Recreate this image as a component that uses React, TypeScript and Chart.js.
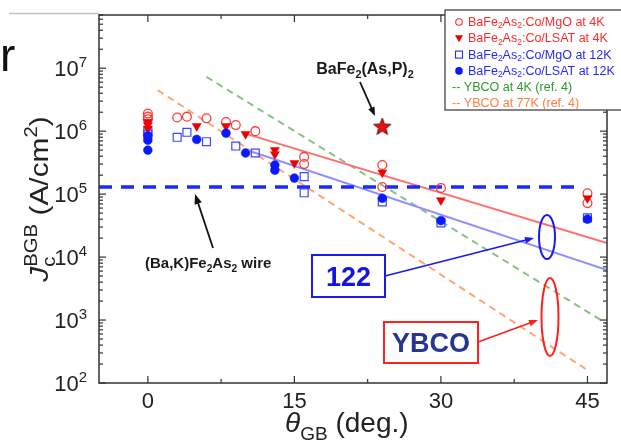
import React, { useEffect, useRef } from "react";
import { Chart, registerables } from "chart.js";

Chart.register(...registerables);

const FONT = "'Liberation Sans', Arial, Helvetica, sans-serif";

// ---------------- data ----------------
const mgo4kTheta = [0, 0, 0, 3, 4, 6, 8, 9, 11, 16, 16, 24, 24, 30, 45, 45];
const mgo4kJc = [1.9e6, 1.7e6, 1.55e6, 1.65e6, 1.7e6, 1.6e6, 1.4e6, 1.25e6, 1.0e6, 3.9e5, 3.0e5, 2.9e5, 1.3e5, 1.25e5, 1.03e5, 7.2e4];

const lsat4kTheta = [0, 0, 0, 5, 8, 10, 13, 13, 15, 24, 30, 45];
const lsat4kJc = [1.4e6, 1.25e6, 1.1e6, 1.2e6, 1.2e6, 9e5, 5e5, 4.3e5, 3.1e5, 2.2e5, 8e4, 8.6e4];

const mgo12kTheta = [0, 0, 3, 4, 6, 9, 11, 16, 16, 24, 30, 45];
const mgo12kJc = [1.0e6, 9e5, 8e5, 9.6e5, 6.8e5, 5.8e5, 4.5e5, 1.9e5, 1.05e5, 7.5e4, 3.5e4, 4.2e4];

const lsat12kTheta = [0, 0, 0, 5, 8, 10, 13, 13, 15, 24, 30, 45];
const lsat12kJc = [8.5e5, 7.2e5, 5e5, 7.4e5, 9.3e5, 4.5e5, 2.9e5, 2.4e5, 1.8e5, 8.6e4, 3.8e4, 4e4];

const starTheta = [24];
const starJc = [1.2e6];

const fit4kTheta = [9.8, 47];
const fit4kJc = [9.3e5, 1.67e4];
const fit12kTheta = [10.5, 47];
const fit12kJc = [4.8e5, 6.2e3];
const ybco4kTheta = [6, 47];
const ybco4kJc = [7.3e6, 8.7e2];
const ybco77kTheta = [1, 45];
const ybco77kJc = [4.5e6, 1.6e2];
const wireTheta = [-5, 44.5];
const wireJc = [1.3e5, 1.3e5];

const xTicks = [0, 15, 30, 45];
const xMinorTicks = [7.5, 22.5, 37.5];
const yDecades = [2, 3, 4, 5, 6, 7];

const legendSuffixes = [":Co/MgO at 4K", ":Co/LSAT at 4K", ":Co/MgO at 12K", ":Co/LSAT at 12K"];
const legendYbco = ["-- YBCO at 4K (ref. 4)", "-- YBCO at 77K (ref. 4)"];

// ---------------- helpers ----------------
const zip = (xs: number[], ys: number[]) => xs.map((x, i) => ({ x, y: ys[i] }));

type Seg = { t: string; s?: "sub" | "sup"; i?: boolean; st?: boolean };

function richDraw(
  ctx: CanvasRenderingContext2D,
  segs: Seg[],
  x: number,
  y: number,
  size: number,
  opt: { bold?: boolean; color?: string; align?: "left" | "center" | "right"; scale?: number } = {}
) {
  const bold = opt.bold ?? false;
  const scale = opt.scale ?? 0.68;
  const items: { t: string; font: string; x: number; dy: number }[] = [];
  let cx = 0;
  let stackStart: number | null = null;
  let stackW = 0;
  for (const sg of segs) {
    const fs = sg.s ? size * scale : size;
    const font = `${sg.i ? "italic " : ""}${bold ? "bold " : ""}${fs}px ${FONT}`;
    ctx.font = font;
    const w = ctx.measureText(sg.t).width;
    const dy = sg.s === "sub" ? size * 0.28 : sg.s === "sup" ? -size * 0.42 : 0;
    if (stackStart !== null) {
      items.push({ t: sg.t, font, x: stackStart, dy });
      cx = stackStart + Math.max(stackW, w);
      stackStart = null;
    } else if (sg.st) {
      items.push({ t: sg.t, font, x: cx, dy });
      stackStart = cx;
      stackW = w;
    } else {
      items.push({ t: sg.t, font, x: cx, dy });
      cx += w;
    }
  }
  const off = opt.align === "center" ? -cx / 2 : opt.align === "right" ? -cx : 0;
  ctx.fillStyle = opt.color ?? "#222";
  ctx.textAlign = "left";
  for (const it of items) {
    ctx.font = it.font;
    ctx.fillText(it.t, x + off + it.x, y + it.dy);
  }
  return cx;
}

function seg(ctx: CanvasRenderingContext2D, x1: number, y1: number, x2: number, y2: number) {
  ctx.beginPath();
  ctx.moveTo(x1, y1);
  ctx.lineTo(x2, y2);
  ctx.stroke();
}

function arrow(ctx: CanvasRenderingContext2D, x1: number, y1: number, x2: number, y2: number, color: string, lw: number, head = 9) {
  const a = Math.atan2(y2 - y1, x2 - x1);
  ctx.strokeStyle = color;
  ctx.fillStyle = color;
  ctx.lineWidth = lw;
  seg(ctx, x1, y1, x2 - Math.cos(a) * head * 0.8, y2 - Math.sin(a) * head * 0.8);
  ctx.beginPath();
  ctx.moveTo(x2, y2);
  ctx.lineTo(x2 - head * Math.cos(a) + head * 0.38 * Math.sin(a), y2 - head * Math.sin(a) - head * 0.38 * Math.cos(a));
  ctx.lineTo(x2 - head * Math.cos(a) - head * 0.38 * Math.sin(a), y2 - head * Math.sin(a) + head * 0.38 * Math.cos(a));
  ctx.closePath();
  ctx.fill();
}

function makeStar(r: number) {
  const c = document.createElement("canvas");
  const s = Math.ceil(r * 2 + 4);
  c.width = s;
  c.height = s;
  const g = c.getContext("2d")!;
  g.beginPath();
  for (let i = 0; i < 10; i++) {
    const rad = i % 2 === 0 ? r : r * 0.42;
    const a = -Math.PI / 2 + (i * Math.PI) / 5;
    const px = s / 2 + rad * Math.cos(a);
    const py = s / 2 + rad * Math.sin(a) + 1;
    if (i) g.lineTo(px, py);
    else g.moveTo(px, py);
  }
  g.closePath();
  g.fillStyle = "#ee1111";
  g.fill();
  g.strokeStyle = "#5a0000";
  g.lineWidth = 1;
  g.stroke();
  return c;
}

const bafe = (suffix: string): Seg[] => [
  { t: "BaFe" },
  { t: "2", s: "sub" },
  { t: "As" },
  { t: "2", s: "sub" },
  { t: suffix },
];

const overlay = {
  id: "overlay",
  beforeDraw(chart: any) {
    const ctx = chart.ctx as CanvasRenderingContext2D;
    ctx.save();
    ctx.fillStyle = "#fff";
    ctx.fillRect(0, 0, chart.width, chart.height);
    ctx.restore();
  },
  afterDraw(chart: any) {
    const ctx = chart.ctx as CanvasRenderingContext2D;
    const { left, right, top, bottom } = chart.chartArea;
    const xs = chart.scales.x;
    const ys = chart.scales.y;
    ctx.save();
    ctx.textBaseline = "alphabetic";

    // slide rule line at top-left
    ctx.strokeStyle = "#c4c4c4";
    ctx.lineWidth = 1.5;
    seg(ctx, 9, 13.5, left, 13.5);

    // partial slide title letter (cut by the left edge)
    ctx.fillStyle = "#111";
    ctx.font = `46px ${FONT}`;
    ctx.textAlign = "left";
    ctx.fillText("r", 0, 71);

    // frame
    ctx.strokeStyle = "#333";
    ctx.lineWidth = 1.5;
    ctx.strokeRect(left, top, right - left, bottom - top);

    // y ticks (log)
    ctx.lineWidth = 1.2;
    for (const d of yDecades) {
      for (let k = 1; k <= 9; k++) {
        const v = k * Math.pow(10, d);
        if (v > ys.max) break;
        const y = ys.getPixelForValue(v);
        const len = k === 1 ? 7 : 4;
        seg(ctx, left, y, left + len, y);
        seg(ctx, right, y, right - len, y);
      }
    }
    // x ticks
    for (const t of xTicks) {
      const x = xs.getPixelForValue(t);
      seg(ctx, x, bottom, x, bottom - 7);
      seg(ctx, x, top, x, top + 7);
    }
    for (const t of xMinorTicks) {
      const x = xs.getPixelForValue(t);
      seg(ctx, x, bottom, x, bottom - 4);
      seg(ctx, x, top, x, top + 4);
    }

    // y tick labels
    for (const d of yDecades) {
      const y = ys.getPixelForValue(Math.pow(10, d));
      richDraw(ctx, [{ t: "10" }, { t: String(d), s: "sup" }], 87, y + 8, 22, { align: "right", color: "#222" });
    }
    // x tick labels
    ctx.font = `22px ${FONT}`;
    ctx.fillStyle = "#222";
    ctx.textAlign = "center";
    for (const t of xTicks) {
      ctx.fillText(String(t), xs.getPixelForValue(t), 408);
    }

    // x title
    richDraw(ctx, [{ t: "θ", i: true }, { t: "GB", s: "sub" }, { t: " (deg.)" }], 285, 432, 28, { color: "#222" });

    // y title
    ctx.save();
    ctx.translate(48, 199);
    ctx.rotate(-Math.PI / 2);
    ctx.scale(1.15, 1);
    richDraw(
      ctx,
      [
        { t: "J", i: true },
        { t: "c", s: "sub", st: true },
        { t: "BGB", s: "sup" },
        { t: " (A/cm" },
        { t: "2", s: "sup" },
        { t: ")" },
      ],
      0,
      0,
      26,
      { align: "center", color: "#222" }
    );
    ctx.restore();

    // annotations
    richDraw(ctx, [{ t: "BaFe" }, { t: "2", s: "sub" }, { t: "(As,P)" }, { t: "2", s: "sub" }], 365, 74, 16, {
      bold: true,
      align: "center",
      color: "#1a1a1a",
    });
    arrow(ctx, 360, 82, 375, 116, "#111", 1.8, 9);

    richDraw(
      ctx,
      [{ t: "(Ba,K)Fe" }, { t: "2", s: "sub" }, { t: "As" }, { t: "2", s: "sub" }, { t: " wire" }],
      145,
      268,
      15,
      { bold: true, color: "#1a1a1a" }
    );
    arrow(ctx, 213, 248, 195, 194, "#111", 1.8, 10);

    // 122 box
    ctx.strokeStyle = "#1a1aee";
    ctx.lineWidth = 2;
    ctx.strokeRect(312, 255, 73, 42);
    ctx.font = `bold 27px ${FONT}`;
    ctx.fillStyle = "#1414e6";
    ctx.textAlign = "center";
    ctx.fillText("122", 348.5, 286);
    arrow(ctx, 385, 276, 534, 238, "#1a1aee", 1.6, 9);
    ctx.strokeStyle = "#1a1aee";
    ctx.lineWidth = 2;
    ctx.beginPath();
    ctx.ellipse(547, 237, 8, 22, 0, 0, Math.PI * 2);
    ctx.stroke();

    // YBCO box
    ctx.strokeStyle = "#ff2020";
    ctx.lineWidth = 2;
    ctx.strokeRect(384, 322, 94, 41);
    ctx.font = `bold 27px ${FONT}`;
    ctx.fillStyle = "#283593";
    ctx.textAlign = "center";
    ctx.fillText("YBCO", 431, 352);
    arrow(ctx, 478, 342, 538, 320, "#ff2020", 1.6, 9);
    ctx.strokeStyle = "#ff2020";
    ctx.lineWidth = 2;
    ctx.beginPath();
    ctx.ellipse(550, 317, 8.5, 39, 0, 0, Math.PI * 2);
    ctx.stroke();

    // legend
    ctx.fillStyle = "#fff";
    ctx.fillRect(445, 10, 185, 100);
    ctx.strokeStyle = "#444";
    ctx.lineWidth = 1.3;
    ctx.strokeRect(445, 10, 185, 100);
    ctx.textBaseline = "middle";
    const ly = (i: number) => 22 + i * 16.3;
    const red = "#ff2a2a";
    const blue = "#2a2aee";
    ctx.lineWidth = 1.1;
    ctx.strokeStyle = red;
    ctx.beginPath();
    ctx.arc(459, ly(0), 3.3, 0, Math.PI * 2);
    ctx.stroke();
    ctx.fillStyle = "#ee0000";
    ctx.beginPath();
    ctx.moveTo(455, ly(1) - 3);
    ctx.lineTo(463, ly(1) - 3);
    ctx.lineTo(459, ly(1) + 4);
    ctx.closePath();
    ctx.fill();
    ctx.strokeStyle = blue;
    ctx.strokeRect(455.5, ly(2) - 3.5, 7, 7);
    ctx.fillStyle = "#0a1aff";
    ctx.beginPath();
    ctx.arc(459, ly(3), 3.8, 0, Math.PI * 2);
    ctx.fill();
    const lc = [red, red, blue, blue];
    legendSuffixes.forEach((s, i) => {
      richDraw(ctx, bafe(s), 468, ly(i) + 0.5, 12.5, { color: lc[i] });
    });
    ctx.font = `12.5px ${FONT}`;
    ctx.textAlign = "left";
    ctx.fillStyle = "#2e9a2e";
    ctx.fillText(legendYbco[0], 452, ly(4) + 0.5);
    ctx.fillStyle = "#ff8040";
    ctx.fillText(legendYbco[1], 452, ly(5) + 0.5);

    ctx.restore();
  },
};

export default function App() {
  const ref = useRef<HTMLCanvasElement>(null);
  useEffect(() => {
    const star = makeStar(9);
    const lineDs = (label: string, xs: number[], ys: number[], color: string, width: number, dash: number[]) => ({
      label,
      data: zip(xs, ys),
      showLine: true,
      borderColor: color,
      backgroundColor: color,
      borderWidth: width,
      borderDash: dash,
      pointRadius: 0,
      pointHoverRadius: 0,
    });
    const chart = new Chart(ref.current!, {
      type: "scatter",
      data: {
        datasets: [
          {
            label: "star",
            data: zip(starTheta, starJc),
            pointStyle: star as any,
            pointRadius: 9,
          },
          {
            label: "BaFe2As2:Co/LSAT at 12K",
            data: zip(lsat12kTheta, lsat12kJc),
            pointStyle: "circle",
            pointRadius: 4.4,
            backgroundColor: "#0a1aff",
            borderColor: "#0a1aff",
            borderWidth: 0.5,
          },
          {
            label: "BaFe2As2:Co/LSAT at 4K",
            data: zip(lsat4kTheta, lsat4kJc),
            pointStyle: "triangle",
            rotation: 180,
            pointRadius: 5.2,
            backgroundColor: "#ee0000",
            borderColor: "#ee0000",
            borderWidth: 0.5,
          },
          {
            label: "BaFe2As2:Co/MgO at 12K",
            data: zip(mgo12kTheta, mgo12kJc),
            pointStyle: "rect",
            pointRadius: 5.6,
            backgroundColor: "rgba(0,0,0,0)",
            borderColor: "#3a48ff",
            borderWidth: 1.2,
          },
          {
            label: "BaFe2As2:Co/MgO at 4K",
            data: zip(mgo4kTheta, mgo4kJc),
            pointStyle: "circle",
            pointRadius: 4.4,
            backgroundColor: "rgba(0,0,0,0)",
            borderColor: "#ff3a3a",
            borderWidth: 1.3,
          },
          lineDs("wire", wireTheta, wireJc, "#1a2aff", 3.5, [13, 9]),
          lineDs("fit 4K", fit4kTheta, fit4kJc, "#ff6f6f", 2, []),
          lineDs("fit 12K", fit12kTheta, fit12kJc, "#9090ff", 2, []),
          lineDs("YBCO at 4K (ref. 4)", ybco4kTheta, ybco4kJc, "#86c286", 2, [7, 5]),
          lineDs("YBCO at 77K (ref. 4)", ybco77kTheta, ybco77kJc, "#ffa674", 2, [7, 5]),
        ],
      },
      options: {
        animation: false,
        responsive: false,
        devicePixelRatio: 1,
        events: [],
        layout: { padding: { left: 99, right: 14, top: 15, bottom: 57 } },
        plugins: { legend: { display: false }, tooltip: { enabled: false } },
        scales: {
          x: { type: "linear", min: -5, max: 47, display: false },
          y: { type: "logarithmic", min: 100, max: 7e7, display: false },
        },
      },
      plugins: [overlay],
    });
    return () => chart.destroy();
  }, []);
  return (
    <div style={{ position: "fixed", left: 0, top: 0, width: 621, height: 440, background: "#fff" }}>
      <canvas ref={ref} width={621} height={440} style={{ display: "block", width: 621, height: 440 }} />
    </div>
  );
}
